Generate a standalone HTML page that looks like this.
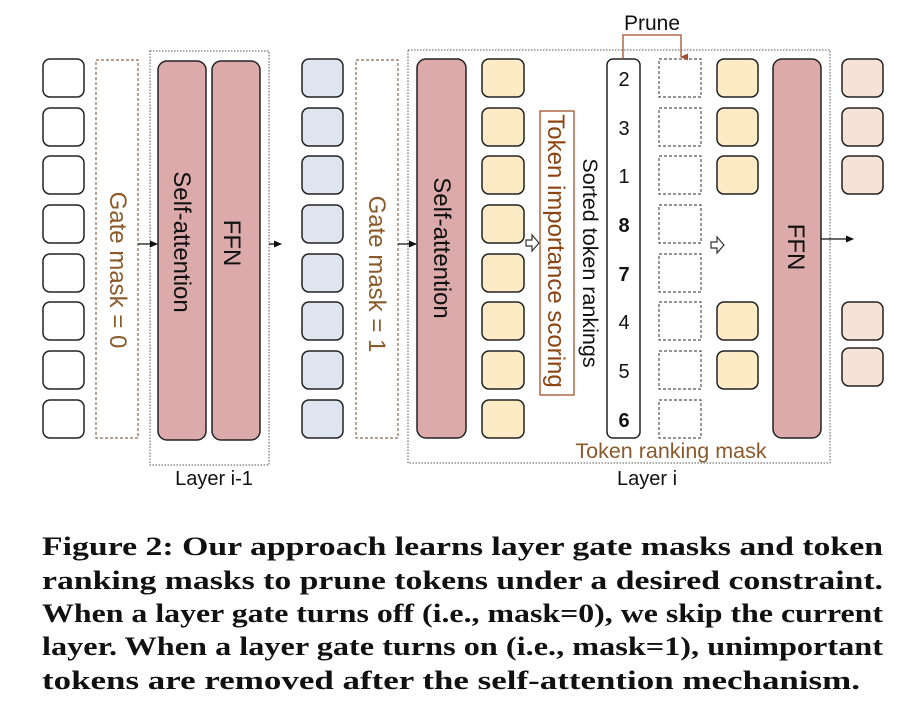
<!DOCTYPE html>
<html><head><meta charset="utf-8"><style>
html,body{margin:0;padding:0;background:#fff;}
svg{display:block;}
</style></head><body>
<svg width="920" height="724" viewBox="0 0 920 724" xmlns="http://www.w3.org/2000/svg" font-family="Liberation Sans, sans-serif">
<defs>
<marker id="ah" markerWidth="8" markerHeight="8" refX="7" refY="4" orient="auto" markerUnits="userSpaceOnUse"><path d="M0,0.5 L8,4 L0,7.5 z" fill="#111"/></marker>
<marker id="ahb" markerWidth="8" markerHeight="8" refX="4" refY="7" orient="auto-start-reverse" markerUnits="userSpaceOnUse"><path d="M0.5,0 L4,8 L7.5,0 z" fill="#a0522d"/></marker>
</defs>
<g stroke="#222" stroke-width="1.5">
<g fill="#fff">
<rect x="43" y="59" width="41" height="38" rx="7"/><rect x="43" y="108" width="41" height="38" rx="7"/><rect x="43" y="156" width="41" height="38" rx="7"/><rect x="43" y="205" width="41" height="38" rx="7"/><rect x="43" y="254" width="41" height="38" rx="7"/><rect x="43" y="302" width="41" height="38" rx="7"/><rect x="43" y="351" width="41" height="38" rx="7"/><rect x="43" y="400" width="41" height="38" rx="7"/>
</g>
<g fill="#dfe5f0">
<rect x="302" y="59" width="41" height="38" rx="7"/><rect x="302" y="108" width="41" height="38" rx="7"/><rect x="302" y="156" width="41" height="38" rx="7"/><rect x="302" y="205" width="41" height="38" rx="7"/><rect x="302" y="254" width="41" height="38" rx="7"/><rect x="302" y="302" width="41" height="38" rx="7"/><rect x="302" y="351" width="41" height="38" rx="7"/><rect x="302" y="400" width="41" height="38" rx="7"/>
</g>
<g fill="#fcebc5">
<rect x="482" y="59" width="42" height="38" rx="7"/><rect x="482" y="108" width="42" height="38" rx="7"/><rect x="482" y="156" width="42" height="38" rx="7"/><rect x="482" y="205" width="42" height="38" rx="7"/><rect x="482" y="254" width="42" height="38" rx="7"/><rect x="482" y="302" width="42" height="38" rx="7"/><rect x="482" y="351" width="42" height="38" rx="7"/><rect x="482" y="400" width="42" height="38" rx="7"/>
<rect x="717" y="59" width="41" height="38" rx="7"/><rect x="717" y="108" width="41" height="38" rx="7"/><rect x="717" y="156" width="41" height="38" rx="7"/><rect x="717" y="302" width="41" height="38" rx="7"/><rect x="717" y="351" width="41" height="38" rx="7"/>
</g>
<g fill="#f7e2d8">
<rect x="842" y="59" width="41" height="38" rx="7"/><rect x="842" y="108" width="41" height="38" rx="7"/><rect x="842" y="156" width="41" height="38" rx="7"/><rect x="842" y="302" width="41" height="38" rx="7"/><rect x="842" y="348" width="41" height="38" rx="7"/>
</g>
<g fill="#dcaaaa">
<rect x="158" y="61" width="48" height="379" rx="9"/>
<rect x="212" y="61" width="48" height="379" rx="9"/>
<rect x="417" y="59" width="49" height="379" rx="9"/>
<rect x="773" y="59" width="48" height="379" rx="9"/>
</g>
<rect x="607" y="59" width="33" height="379" rx="6" fill="#fff"/>
</g>
<g fill="#fff" stroke="#8b6a50" stroke-width="1.2" stroke-dasharray="3,2">
<rect x="96" y="60" width="42" height="378"/>
<rect x="356" y="60" width="42" height="378"/>
</g>
<g fill="none" stroke="#555" stroke-width="1.2" stroke-dasharray="3,2">
<rect x="659" y="59" width="42" height="38"/><rect x="659" y="108" width="42" height="38"/><rect x="659" y="156" width="42" height="38"/><rect x="659" y="205" width="42" height="38"/><rect x="659" y="254" width="42" height="38"/><rect x="659" y="302" width="42" height="38"/><rect x="659" y="351" width="42" height="38"/><rect x="659" y="400" width="42" height="38"/>
</g>
<g fill="none" stroke="#555" stroke-width="1" stroke-dasharray="1.5,1.5">
<rect x="150" y="51" width="119" height="414"/>
<rect x="408" y="50" width="422" height="413"/>
</g>
<rect x="540" y="111" width="34" height="284" fill="#fff" stroke="#a0522d" stroke-width="1.3"/>
<g stroke="#111" stroke-width="1.3" marker-end="url(#ah)">
<line x1="138" y1="244" x2="157" y2="244"/>
<line x1="269" y1="244" x2="281" y2="244"/>
<line x1="398" y1="244" x2="416" y2="244"/>
<line x1="821" y1="239" x2="853" y2="239"/>
</g>
<g fill="#fff" stroke="#333" stroke-width="1.2">
<path d="M526,240 h6 v-5 l7,8 l-7,8 v-5 h-6 z"/>
<path d="M711,242 h6 v-5 l7,8 l-7,8 v-5 h-6 z"/>
</g>
<path d="M623,59 V35 H681 V57" fill="none" stroke="#a0522d" stroke-width="1.3" marker-end="url(#ahb)"/>
<g font-size="24">
<text transform="translate(110,270) rotate(90)" text-anchor="middle" fill="#8b5a2b">Gate mask = 0</text>
<text transform="translate(369,274) rotate(90)" text-anchor="middle" fill="#8b5a2b">Gate mask = 1</text>
<text transform="translate(174,242) rotate(90)" text-anchor="middle" fill="#111">Self-attention</text>
<text transform="translate(224,243) rotate(90)" text-anchor="middle" fill="#111">FFN</text>
<text transform="translate(434,248) rotate(90)" text-anchor="middle" fill="#111">Self-attention</text>
<text transform="translate(788,247) rotate(90)" text-anchor="middle" fill="#111">FFN</text>
<text transform="translate(548,251) rotate(90)" text-anchor="middle" fill="#8b4513">Token importance scoring</text>
<text transform="translate(583,263) rotate(90)" text-anchor="middle" fill="#111" font-size="21.5">Sorted token rankings</text>
<text x="652" y="30" text-anchor="middle" font-size="21" fill="#111">Prune</text>
<text x="214" y="485" text-anchor="middle" font-size="20" fill="#111">Layer i-1</text>
<text x="647" y="485" text-anchor="middle" font-size="20" fill="#111">Layer i</text>
<text x="671" y="458" text-anchor="middle" font-size="21.5" fill="#8b5a2b">Token ranking mask</text>
</g>
<g font-size="20" text-anchor="middle" fill="#111">
<text x="624" y="86">2</text><text x="624" y="135">3</text><text x="624" y="183">1</text>
<text x="624" y="232" font-weight="bold">8</text><text x="624" y="281" font-weight="bold">7</text>
<text x="624" y="329">4</text><text x="624" y="378">5</text><text x="624" y="427" font-weight="bold">6</text>
</g>
<g font-family="Liberation Serif, serif" font-weight="bold" font-size="26" fill="#111">
<text x="42" y="555" textLength="841" lengthAdjust="spacingAndGlyphs">Figure 2: Our approach learns layer gate masks and token</text>
<text x="42" y="589" textLength="841" lengthAdjust="spacingAndGlyphs">ranking masks to prune tokens under a desired constraint.</text>
<text x="42" y="622" textLength="841" lengthAdjust="spacingAndGlyphs">When a layer gate turns off (i.e., mask=0), we skip the current</text>
<text x="42" y="655" textLength="841" lengthAdjust="spacingAndGlyphs">layer. When a layer gate turns on (i.e., mask=1), unimportant</text>
<text x="42" y="689" textLength="818" lengthAdjust="spacingAndGlyphs">tokens are removed after the self-attention mechanism.</text>
</g>
</svg>
</body></html>
